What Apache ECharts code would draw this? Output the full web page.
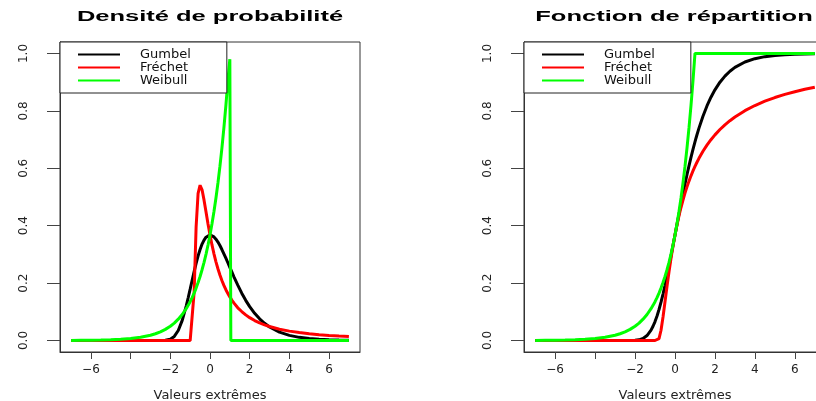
<!DOCTYPE html>
<html><head><meta charset="utf-8">
<script src="https://cdn.jsdelivr.net/npm/echarts@6/dist/echarts.min.js"></script>
<style>html,body{margin:0;padding:0;background:#fff}#c{width:816px;height:401px}</style>
</head><body><div id="c"></div>
<script>
const xValues = [-7,-6.5,-6,-5.5,-5,-4.5,-4,-3.5,-3,-2.75,-2.5,-2.25,-2,-1.8,-1.6,-1.4,-1.2,-1.1,-1.0,-0.9,-0.8,-0.7,-0.6,-0.5,-0.4,-0.3,-0.2,-0.1,0,0.1,0.2,0.3,0.4,0.5,0.6,0.7,0.8,0.9,1.0,1.05,1.1,1.2,1.4,1.6,1.8,2,2.25,2.5,2.75,3,3.5,4,4.5,5,5.5,6,6.5,7];

const gumbelDensity = [0,0,0,0,0,0,0,0,0,0,0.0001,0.0007,0.0046,0.0143,0.035,0.0703,0.12,0.149,0.179,0.21,0.24,0.269,0.295,0.317,0.336,0.35,0.36,0.366,0.368,0.366,0.361,0.353,0.343,0.331,0.317,0.302,0.287,0.271,0.255,0.247,0.239,0.223,0.193,0.165,0.14,0.118,0.0949,0.0756,0.06,0.0474,0.0293,0.018,0.011,0.0067,0.0041,0.0025,0.0015,0.0009];
const frechetDensity = [0,0,0,0,0,0,0,0,0,0,0,0,0,0,0,0,0,0,0,0.0045,0.168,0.396,0.513,0.541,0.525,0.489,0.448,0.406,0.368,0.333,0.302,0.274,0.25,0.228,0.209,0.192,0.177,0.164,0.152,0.146,0.141,0.131,0.114,0.101,0.0893,0.0796,0.0696,0.0613,0.0545,0.0487,0.0395,0.0327,0.0276,0.0235,0.0203,0.0177,0.0156,0.0138];
const weibullDensity = [0.0003,0.0006,0.0009,0.0015,0.0025,0.0041,0.0067,0.0111,0.0183,0.0235,0.0302,0.0388,0.0498,0.0608,0.0743,0.0907,0.1108,0.1225,0.1353,0.1496,0.1653,0.1827,0.2019,0.2231,0.2466,0.2725,0.3012,0.3329,0.3679,0.4066,0.4493,0.4966,0.5488,0.6065,0.6703,0.7408,0.8187,0.9048,0.98,0,0,0,0,0,0,0,0,0,0,0,0,0,0,0,0,0,0,0];

const gumbelCdf = [0,0,0,0,0,0,0,0,0,0,0,0.0001,0.0006,0.0024,0.0071,0.0173,0.0361,0.0496,0.066,0.0854,0.108,0.1335,0.1617,0.1923,0.225,0.2593,0.2948,0.3312,0.3679,0.4046,0.441,0.4767,0.5116,0.5452,0.5777,0.6086,0.638,0.6659,0.6922,0.7048,0.7169,0.74,0.7815,0.8172,0.8476,0.8734,0.9,0.9212,0.9381,0.9514,0.9703,0.9819,0.989,0.9933,0.9959,0.9975,0.9985,0.9991];
const frechetCdf = [0,0,0,0,0,0,0,0,0,0,0,0,0,0,0,0,0,0,0,0,0.0067,0.0357,0.0821,0.1353,0.1889,0.2397,0.2865,0.3292,0.3679,0.4029,0.4346,0.4634,0.4895,0.5134,0.5353,0.5553,0.5738,0.5908,0.6065,0.614,0.6211,0.6348,0.6592,0.6807,0.6997,0.7165,0.7351,0.7515,0.7659,0.7788,0.8007,0.8187,0.8338,0.8465,0.8574,0.8669,0.8752,0.8825];
const weibullCdf = [0.0003,0.0006,0.0009,0.0015,0.0025,0.0041,0.0067,0.0111,0.0183,0.0235,0.0302,0.0388,0.0498,0.0608,0.0743,0.0907,0.1108,0.1225,0.1353,0.1496,0.1653,0.1827,0.2019,0.2231,0.2466,0.2725,0.3012,0.3329,0.3679,0.4066,0.4493,0.4966,0.5488,0.6065,0.6703,0.7408,0.8187,0.9048,1,1,1,1,1,1,1,1,1,1,1,1,1,1,1,1,1,1,1,1];

const yTicks = [0,0.2,0.4,0.6,0.8,1.0];
const xTicks = [-6,-4,-2,0,2,4,6];
const xTickLabels = [-6,-2,0,2,4,6];
const panelTitles = ['Densité de probabilité','Fonction de répartition'];
const xAxisName = 'Valeurs extrêmes';
const seriesNames = ['Gumbel','Fréchet','Weibull'];
const seriesColors = ['#000000','#ff0000','#00ff00'];

const panels = [
  {left: 60, width: 300, center: 210, data: [gumbelDensity, frechetDensity, weibullDensity]},
  {left: 524, width: 302, center: 674, data: [gumbelCdf, frechetCdf, weibullCdf]}
];
const FONT = '"DejaVu Sans", sans-serif';

const chart = echarts.init(document.getElementById('c'), null, {renderer: 'canvas'});
const option = {
  animation: false,
  backgroundColor: '#fff',
  grid: panels.map(p => ({left: p.left, width: p.width, top: 42, height: 310, show: true,
    borderColor: '#333', borderWidth: 1, backgroundColor: 'transparent',
    containLabel: false, outerBoundsMode: 'none'})),
  xAxis: panels.map((p, i) => ({
    type: 'value', gridIndex: i, min: -7.56, max: 7.56, position: 'bottom',
    axisLine: {show: true, onZero: false, lineStyle: {color: '#333', width: 1}}, splitLine: {show: false},
    axisTick: {show: true, customValues: xTicks, length: 7, lineStyle: {color: '#444', width: 1}},
    axisLabel: {customValues: xTickLabels, margin: 12, fontSize: 12, fontFamily: FONT, color: '#222',
      formatter: v => (v < 0 ? '\u2212' + Math.abs(v) : String(v))},
    name: xAxisName, nameLocation: 'middle', nameGap: 37,
    nameTextStyle: {fontSize: 13, fontFamily: FONT, color: '#222'}
  })),
  yAxis: panels.map((p, i) => ({
    type: 'value', gridIndex: i, min: -0.04, max: 1.04, position: 'left',
    axisLine: {show: true, onZero: false, lineStyle: {color: '#333', width: 1}}, splitLine: {show: false},
    axisTick: {show: true, customValues: yTicks, length: 13, lineStyle: {color: '#444', width: 1}},
    axisLabel: {customValues: yTicks, rotate: 90, margin: 30, fontSize: 12, fontFamily: FONT, color: '#222',
      formatter: v => v.toFixed(1)}
  })),
  legend: panels.map((p, i) => ({
    orient: 'vertical', left: p.left, top: 42, padding: [6, 36, 6, 18],
    itemGap: 0, itemWidth: 42, itemHeight: 2, icon: 'rect',
    borderColor: '#222', borderWidth: 1, backgroundColor: '#fff',
    selectedMode: false, data: seriesNames,
    textStyle: {fontFamily: FONT, fontSize: 13, color: '#111', lineHeight: 11.5, padding: [0, 0, 0, 15]}
  })),
  graphic: panels.map((p, i) => ({
    type: 'text', x: p.center, y: 17, scaleX: 1.82, originX: 0, originY: 0,
    style: {text: panelTitles[i], font: 'bold 14px "Liberation Sans", Arial, sans-serif',
      fill: '#000', align: 'center', verticalAlign: 'middle', textAlign: 'center', textVerticalAlign: 'middle'}
  })),
  series: []
};
panels.forEach((p, i) => {
  seriesNames.forEach((name, k) => {
    option.series.push({
      type: 'line', name: name, xAxisIndex: i, yAxisIndex: i,
      showSymbol: false, symbol: 'none', color: seriesColors[k],
      lineStyle: {width: 3, color: seriesColors[k]},
      data: xValues.map((x, j) => [x, p.data[k][j]])
    });
  });
});
chart.setOption(option);
</script>
</body></html>
